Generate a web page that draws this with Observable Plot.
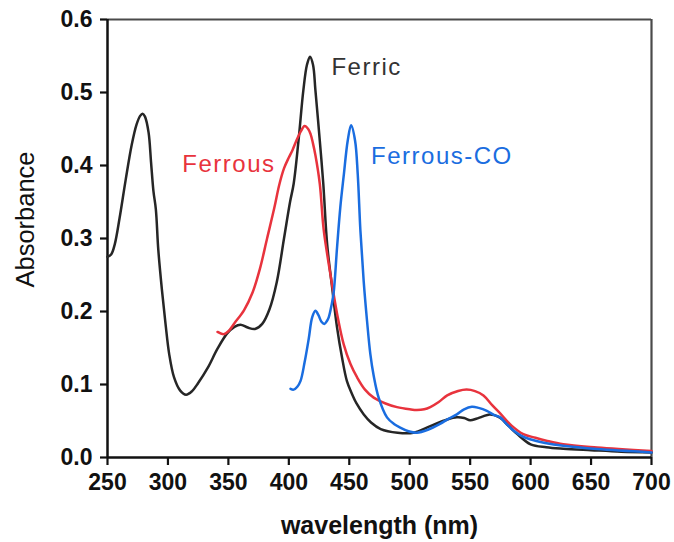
<!DOCTYPE html>
<html>
<head>
<meta charset="utf-8">
<script src="https://cdn.jsdelivr.net/npm/d3@7"></script>
<script src="https://cdn.jsdelivr.net/npm/@observablehq/plot@0.6"></script>
<style>
  html, body { margin: 0; padding: 0; background: #fff; }
  #chart { width: 674px; height: 542px; }
</style>
</head>
<body>
<div id="chart"></div>
<script>
// UV-visible absorption spectra: [wavelength (nm), absorbance]
const ferric = [
  [250, 0.275], [253, 0.278], [256, 0.292], [260, 0.328], [265, 0.380], [270, 0.428],
  [274, 0.456], [277, 0.468], [279, 0.471], [281, 0.467], [284, 0.445], [286, 0.405],
  [288, 0.365], [290, 0.340], [292, 0.285], [295, 0.230], [298, 0.183], [301, 0.142],
  [305, 0.110], [310, 0.092], [315, 0.086], [320, 0.091], [325, 0.102], [333, 0.123],
  [341, 0.149], [349, 0.170], [355, 0.179], [360, 0.182], [366, 0.178], [372, 0.176],
  [378, 0.183], [384, 0.203], [390, 0.240], [396, 0.300], [401, 0.350], [404, 0.375],
  [408, 0.434], [412, 0.503], [415, 0.538], [417.5, 0.549], [420, 0.538], [422, 0.503],
  [425.6, 0.434], [428.5, 0.375], [431.7, 0.292], [435.8, 0.233], [439.9, 0.178],
  [444, 0.137], [448, 0.105], [452, 0.088], [456, 0.074], [462, 0.059], [468, 0.048],
  [476, 0.039], [490, 0.034], [503, 0.034], [517, 0.043], [531, 0.052], [539, 0.055],
  [545, 0.054], [550, 0.051], [555, 0.053], [560, 0.056], [566, 0.059], [570, 0.058],
  [575, 0.054], [582, 0.043], [589, 0.032], [600, 0.018], [613, 0.014], [627, 0.012],
  [650, 0.010], [675, 0.008], [700, 0.007]
];

const ferrous = [
  [341, 0.172], [346, 0.169], [350, 0.173], [355, 0.184], [363, 0.202], [370, 0.226],
  [376, 0.258], [382, 0.300], [388, 0.342], [392, 0.373], [396, 0.396], [400, 0.411],
  [403, 0.421], [407, 0.437], [410, 0.447], [413, 0.454], [416, 0.450], [418, 0.443],
  [420, 0.430], [422, 0.414], [425.6, 0.375], [428.9, 0.311], [434.4, 0.251],
  [439.9, 0.197], [445.4, 0.155], [451, 0.128], [456.4, 0.110], [463, 0.093],
  [470.2, 0.082], [480, 0.074], [489.5, 0.069], [500, 0.066], [506, 0.065], [512, 0.066],
  [517, 0.069], [524, 0.076], [531, 0.085], [540, 0.091], [547, 0.093], [554, 0.091],
  [561, 0.085], [568, 0.072], [575, 0.060], [584, 0.044], [594, 0.032], [604, 0.027],
  [613, 0.023], [627, 0.018], [655, 0.0137], [700, 0.009]
];

const ferrousCO = [
  [401.4, 0.094], [404, 0.093], [407, 0.097], [409.7, 0.105], [413, 0.130], [416.5, 0.163],
  [419.3, 0.192], [422, 0.201], [424.5, 0.195], [427, 0.186], [429.4, 0.183], [431.5, 0.187],
  [433, 0.192], [435.5, 0.210], [437.1, 0.226], [439.9, 0.288], [442.6, 0.343],
  [445.4, 0.386], [448.7, 0.434], [451.5, 0.455], [454.8, 0.434], [457, 0.388],
  [459.2, 0.311], [461.9, 0.242], [464.7, 0.187], [467.4, 0.142], [470.2, 0.112],
  [474.3, 0.082], [481.2, 0.055], [487, 0.046], [492.2, 0.041], [499, 0.036], [506, 0.034],
  [515, 0.038], [525, 0.046], [532, 0.053], [539, 0.059], [545, 0.066], [551.4, 0.0695],
  [557, 0.068], [563.8, 0.064], [570, 0.058], [574.8, 0.055], [580, 0.046], [585.8, 0.037],
  [592, 0.030], [599.5, 0.025], [612, 0.020], [627, 0.016], [655, 0.0115], [700, 0.007]
];

// series names, colours and in-plot label anchors (wavelength, absorbance)
const seriesNames = ["Ferric", "Ferrous", "Ferrous-CO"];
const seriesColors = ["#262626", "#e8333d", "#1a6de0"];
const labelColors = ["#333333", "#e8333d", "#1a6de0"];
const labelWl = [435.2, 311.9, 468.0];
const labelAbs = [0.535, 0.402, 0.413];

const xTicks = [250, 300, 350, 400, 450, 500, 550, 600, 650, 700];
const yTicks = [0, 0.1, 0.2, 0.3, 0.4, 0.5, 0.6];

const spectra = [ferric, ferrous, ferrousCO].flatMap((pts, i) =>
  pts.map(([wl, a]) => ({series: seriesNames[i], wl, a}))
);
const labels = seriesNames.map((name, i) => ({name, wl: labelWl[i], a: labelAbs[i], color: labelColors[i]}));

const chart = Plot.plot({
  width: 674,
  height: 542,
  marginLeft: 107,
  marginRight: 23,
  marginTop: 19,
  marginBottom: 85,
  style: {fontFamily: "'Liberation Sans', Arial, sans-serif", fontSize: "23px", fontWeight: "bold", color: "#111"},
  x: {domain: [250, 700], label: null},
  y: {domain: [0, 0.6], label: null},
  color: {domain: seriesNames, range: seriesColors},
  marks: [
    // frame: dark left/bottom axes, grey top/right borders
    Plot.ruleY([0.6], {stroke: "#4a4a4a", strokeWidth: 2.2}),
    Plot.ruleX([700], {stroke: "#4a4a4a", strokeWidth: 2.2}),
    Plot.ruleX([250], {stroke: "#111", strokeWidth: 2.5}),
    Plot.ruleY([0], {stroke: "#111", strokeWidth: 2.5}),
    Plot.axisX({ticks: xTicks, tickSize: 8, tickPadding: 8, strokeWidth: 2.2, stroke: "#111", label: null}),
    Plot.axisY({ticks: yTicks, tickSize: 7, tickPadding: 8, strokeWidth: 2.2, stroke: "#111",
      tickFormat: d => d.toFixed(1), label: null}),
    Plot.line(spectra, {x: "wl", y: "a", z: "series", stroke: "series", strokeWidth: 2.5, curve: "catmull-rom"}),
    Plot.text(labels, {x: "wl", y: "a", text: "name", fill: "color", textAnchor: "start", lineAnchor: "middle",
      fontSize: 24, fontWeight: "normal"}),
    Plot.text(["wavelength (nm)"], {frameAnchor: "bottom", dy: 76, fontSize: 25, fontWeight: "bold", fill: "#111"}),
    Plot.text(["Absorbance"], {frameAnchor: "left", textAnchor: "middle", lineAnchor: "bottom", rotate: -90,
      dx: -74, dy: -19, fontSize: 25.5, fontWeight: "normal", fill: "#111"})
  ]
});

// the in-plot series labels are set with slightly open tracking
d3.select(chart).selectAll("text")
  .filter(function () { return seriesNames.includes(this.textContent); })
  .style("letter-spacing", "1.5px");

document.getElementById("chart").appendChild(chart);
</script>
</body>
</html>
